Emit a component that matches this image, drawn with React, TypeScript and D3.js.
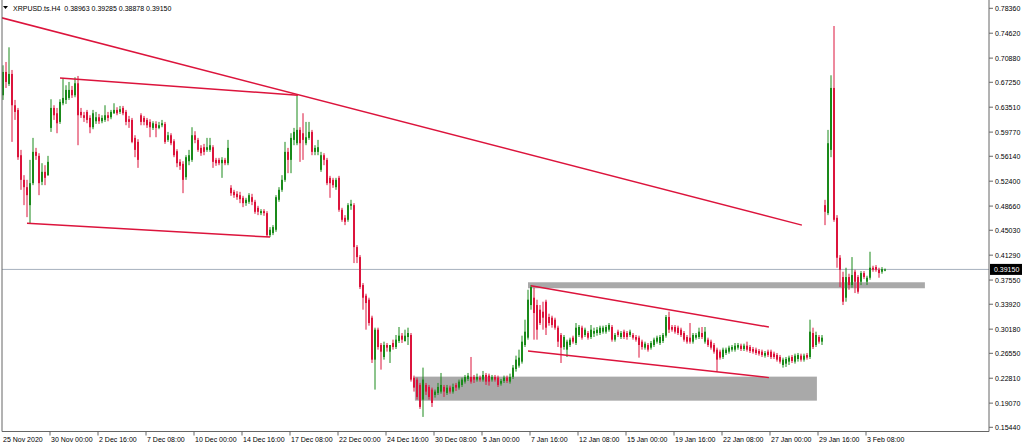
import React from "react";
import * as d3 from "d3";

// ---- H4 candles XRPUSD (index 0 = 25 Nov 2020 08:00) ----
const open = [
  0.653,0.688,0.670,0.685,0.638,0.631,0.563,0.526,0.515,0.488,0.521,0.568,0.562,0.523,0.538,0.533,
  0.604,0.634,0.626,0.613,0.641,0.646,0.649,0.661,0.653,0.671,0.628,0.623,0.628,0.619,0.605,0.614,0.620,0.614,0.616,0.623,0.620,0.626,0.631,0.628,0.634,0.628,0.617,0.616,0.589,0.583,
  0.623,0.619,0.616,0.613,0.604,0.610,0.604,0.608,0.610,0.586,0.593,0.584,0.569,0.553,0.550,0.530,0.554,0.556,0.593,0.586,0.574,0.575,0.571,0.571,0.575,0.556,0.556,0.551,0.556,0.551,
  0.514,0.508,0.505,0.503,0.499,0.491,0.493,0.500,0.493,0.484,0.476,0.479,0.476,0.443,0.446,0.451,0.496,0.511,0.526,0.568,0.556,0.586,0.581,0.601,0.596,0.581,0.589,0.598,0.568,0.568,
  0.541,0.563,0.556,0.529,0.526,0.515,0.529,0.481,0.469,0.466,0.487,0.488,0.425,0.410,0.368,0.352,0.346,0.319,0.256,0.301,0.278,0.260,0.278,0.268,
  0.281,0.275,0.284,0.292,0.284,0.290,0.293,0.229,0.226,0.218,0.196,0.218,0.215,0.211,0.203,0.206,0.208,0.215,0.206,0.214,0.208,0.218,0.214,0.218,
  0.223,0.227,0.230,0.230,0.226,0.229,0.226,0.233,0.232,0.226,0.230,0.229,0.220,0.224,0.229,0.223,0.230,0.242,0.247,0.253,0.278,0.289,0.338,0.349,0.338,0.331,0.328,0.343,0.320,0.319,
  0.316,0.304,0.293,0.275,0.271,0.278,0.289,0.281,0.293,0.304,0.293,0.296,0.290,0.295,0.296,0.296,0.298,0.298,0.301,0.305,0.286,0.298,0.290,0.298,0.296,0.293,0.293,0.290,0.289,0.283,
  0.274,0.278,0.274,0.278,0.283,0.281,0.284,0.292,0.320,0.305,0.305,0.304,0.301,0.296,0.290,0.289,0.283,0.289,0.290,0.296,0.283,0.286,0.283,0.278,0.271,0.268,0.260,0.266,0.268,0.271,
  0.271,0.274,0.277,0.272,0.277,0.275,0.272,0.271,0.269,0.268,0.262,0.268,0.268,0.265,0.263,0.260,0.248,0.250,0.253,0.260,0.253,0.257,0.262,0.256,0.263,0.260,0.296,0.278,0.290,0.283,
  0.488,0.476,0.571,0.664,0.469,0.409,0.380,0.349,0.380,0.368,0.388,0.380,0.373,0.386,0.373,0.379,0.394,0.395,0.391,0.388,0.38963,
];
const high = [
  0.698,0.703,0.725,0.691,0.646,0.634,0.571,0.533,0.526,0.556,0.589,0.574,0.566,0.551,0.548,0.562,
  0.647,0.638,0.634,0.647,0.679,0.668,0.673,0.667,0.680,0.682,0.634,0.628,0.631,0.623,0.631,0.628,0.625,0.623,0.638,0.628,0.631,0.641,0.635,0.637,0.637,0.631,0.622,0.619,0.593,0.587,
  0.626,0.622,0.619,0.617,0.614,0.614,0.613,0.616,0.613,0.598,0.596,0.587,0.572,0.557,0.554,0.563,0.571,0.605,0.599,0.589,0.578,0.580,0.589,0.589,0.578,0.559,0.559,0.560,0.559,0.586,
  0.518,0.511,0.509,0.508,0.502,0.499,0.506,0.505,0.496,0.487,0.482,0.482,0.479,0.455,0.458,0.503,0.515,0.533,0.583,0.574,0.596,0.604,0.653,0.605,0.626,0.613,0.613,0.601,0.578,0.586,
  0.568,0.566,0.559,0.532,0.529,0.529,0.532,0.484,0.473,0.491,0.496,0.491,0.428,0.413,0.371,0.355,0.349,0.322,0.304,0.304,0.281,0.283,0.281,0.278,
  0.286,0.293,0.305,0.296,0.301,0.304,0.296,0.232,0.229,0.221,0.244,0.221,0.218,0.214,0.211,0.221,0.236,0.218,0.218,0.217,0.220,0.221,0.226,0.229,
  0.233,0.236,0.260,0.233,0.235,0.232,0.239,0.236,0.235,0.233,0.233,0.232,0.227,0.232,0.232,0.235,0.248,0.262,0.271,0.292,0.316,0.361,0.368,0.364,0.346,0.338,0.343,0.346,0.325,0.322,
  0.319,0.307,0.296,0.293,0.286,0.289,0.292,0.311,0.308,0.307,0.304,0.299,0.308,0.304,0.305,0.307,0.307,0.308,0.311,0.308,0.296,0.301,0.299,0.301,0.299,0.301,0.296,0.293,0.292,0.286,
  0.283,0.281,0.284,0.289,0.292,0.293,0.296,0.323,0.328,0.308,0.308,0.307,0.304,0.299,0.293,0.311,0.296,0.296,0.304,0.305,0.305,0.289,0.286,0.281,0.274,0.271,0.274,0.274,0.277,0.278,
  0.281,0.281,0.280,0.280,0.283,0.278,0.275,0.274,0.272,0.271,0.269,0.271,0.271,0.268,0.266,0.263,0.259,0.260,0.262,0.263,0.265,0.266,0.265,0.265,0.266,0.316,0.304,0.298,0.293,0.293,
  0.496,0.601,0.683,0.757,0.473,0.413,0.388,0.394,0.385,0.410,0.391,0.383,0.389,0.389,0.382,0.418,0.397,0.398,0.394,0.395,0.39285,
];
const low = [
  0.646,0.664,0.667,0.583,0.616,0.556,0.511,0.488,0.470,0.461,0.518,0.556,0.503,0.518,0.518,0.532,
  0.598,0.616,0.596,0.610,0.638,0.640,0.646,0.649,0.650,0.578,0.619,0.613,0.611,0.596,0.602,0.610,0.610,0.611,0.613,0.614,0.617,0.625,0.623,0.625,0.623,0.608,0.604,0.581,0.560,0.544,
  0.608,0.608,0.604,0.590,0.601,0.590,0.602,0.605,0.580,0.583,0.578,0.560,0.545,0.541,0.506,0.526,0.548,0.553,0.581,0.568,0.562,0.563,0.568,0.568,0.544,0.547,0.548,0.529,0.548,0.548,
  0.502,0.499,0.496,0.491,0.485,0.487,0.490,0.488,0.475,0.473,0.473,0.472,0.440,0.440,0.443,0.448,0.493,0.508,0.523,0.536,0.536,0.578,0.578,0.553,0.556,0.578,0.586,0.563,0.563,0.563,
  0.538,0.548,0.518,0.499,0.514,0.511,0.478,0.463,0.458,0.463,0.481,0.401,0.401,0.362,0.331,0.301,0.307,0.251,0.211,0.271,0.241,0.256,0.268,0.251,
  0.271,0.272,0.281,0.281,0.283,0.278,0.223,0.208,0.196,0.182,0.170,0.203,0.196,0.185,0.199,0.203,0.205,0.200,0.203,0.205,0.205,0.209,0.211,0.215,
  0.220,0.224,0.220,0.221,0.223,0.223,0.223,0.218,0.217,0.223,0.223,0.215,0.217,0.221,0.221,0.220,0.227,0.238,0.244,0.250,0.275,0.286,0.331,0.286,0.286,0.308,0.301,0.293,0.307,0.304,
  0.301,0.275,0.251,0.271,0.260,0.275,0.280,0.278,0.290,0.286,0.290,0.286,0.287,0.290,0.292,0.293,0.295,0.295,0.298,0.283,0.283,0.290,0.287,0.287,0.286,0.290,0.286,0.283,0.259,0.271,
  0.271,0.268,0.271,0.275,0.280,0.278,0.281,0.289,0.296,0.298,0.295,0.293,0.290,0.283,0.280,0.280,0.280,0.286,0.287,0.287,0.280,0.275,0.271,0.265,0.238,0.256,0.257,0.263,0.265,0.268,
  0.268,0.271,0.269,0.269,0.268,0.266,0.265,0.263,0.262,0.260,0.259,0.260,0.257,0.257,0.253,0.250,0.244,0.245,0.248,0.251,0.250,0.253,0.253,0.253,0.256,0.257,0.272,0.275,0.280,0.278,
  0.458,0.473,0.560,0.463,0.394,0.365,0.338,0.343,0.361,0.364,0.356,0.355,0.368,0.377,0.368,0.376,0.388,0.388,0.379,0.385,0.38878,
];
const close = [
  0.688,0.673,0.685,0.638,0.628,0.560,0.526,0.515,0.503,0.521,0.568,0.562,0.521,0.538,0.529,0.553,
  0.634,0.623,0.611,0.643,0.649,0.661,0.661,0.653,0.671,0.623,0.623,0.619,0.616,0.605,0.626,0.620,0.614,0.619,0.623,0.619,0.628,0.631,0.626,0.632,0.626,0.613,0.613,0.583,0.571,0.556,
  0.613,0.613,0.608,0.605,0.611,0.604,0.608,0.611,0.583,0.593,0.581,0.563,0.551,0.547,0.526,0.560,0.563,0.593,0.586,0.571,0.566,0.568,0.575,0.578,0.553,0.551,0.551,0.556,0.551,0.574,
  0.506,0.503,0.500,0.497,0.491,0.496,0.503,0.493,0.478,0.478,0.479,0.476,0.443,0.451,0.455,0.500,0.511,0.526,0.568,0.556,0.589,0.598,0.601,0.581,0.586,0.590,0.598,0.568,0.574,0.575,
  0.563,0.556,0.521,0.521,0.518,0.526,0.481,0.466,0.463,0.488,0.490,0.425,0.410,0.365,0.349,0.341,0.311,0.256,0.301,0.275,0.268,0.278,0.274,0.278,
  0.275,0.286,0.292,0.286,0.292,0.296,0.226,0.214,0.200,0.185,0.226,0.208,0.200,0.191,0.208,0.215,0.218,0.208,0.214,0.208,0.215,0.214,0.223,0.226,
  0.230,0.232,0.223,0.226,0.230,0.226,0.233,0.223,0.223,0.230,0.226,0.218,0.224,0.229,0.224,0.230,0.244,0.256,0.259,0.283,0.298,0.346,0.365,0.326,0.301,0.311,0.319,0.304,0.311,0.308,
  0.304,0.283,0.274,0.290,0.283,0.286,0.283,0.304,0.305,0.289,0.301,0.289,0.301,0.299,0.301,0.304,0.304,0.305,0.308,0.286,0.293,0.293,0.296,0.290,0.290,0.298,0.289,0.286,0.278,0.275,
  0.280,0.271,0.281,0.286,0.289,0.290,0.293,0.320,0.301,0.301,0.298,0.296,0.293,0.286,0.283,0.283,0.293,0.293,0.298,0.290,0.298,0.278,0.274,0.268,0.256,0.259,0.271,0.271,0.274,0.275,
  0.277,0.278,0.272,0.277,0.271,0.269,0.268,0.266,0.265,0.263,0.266,0.263,0.260,0.260,0.256,0.253,0.256,0.257,0.259,0.254,0.262,0.263,0.256,0.262,0.259,0.298,0.275,0.293,0.283,0.289,
  0.478,0.581,0.664,0.466,0.409,0.391,0.343,0.380,0.368,0.383,0.373,0.358,0.386,0.380,0.379,0.394,0.391,0.391,0.386,0.392,0.39150,
];

// ---- drawn objects (bar index, price) ----
const mainTrend = [[-1, 0.770], [266.3, 0.458]];
const wedgeTop = [[19, 0.679], [98.3, 0.653]];
const wedgeBottom = [[8, 0.461], [89, 0.440]];
const channelTop = [[176, 0.367], [255.3, 0.305]];
const channelBottom = [[175, 0.269], [255.3, 0.229]];
const upperZone = [175, 307.3, 0.3722, 0.3632];
const lowerZone = [137.3, 271.3, 0.2305, 0.1944];
const lastPrice = 0.3915;

const priceTicks = [0.7836, 0.7462, 0.7088, 0.6725, 0.6351, 0.5977, 0.5614, 0.524, 0.4866, 0.4503, 0.4129, 0.3755, 0.3392, 0.3018, 0.2655, 0.2281, 0.1907, 0.1544];
const timeTickIdx = [0, 16, 32, 48, 64, 80, 96, 112, 128, 144, 160, 176, 192, 208, 224, 240, 256, 272, 288];
const timeTickLabels = ["25 Nov 2020", "30 Nov 00:00", "2 Dec 16:00", "7 Dec 08:00", "10 Dec 00:00", "14 Dec 16:00", "17 Dec 08:00", "22 Dec 00:00", "24 Dec 16:00", "30 Dec 08:00", "5 Jan 00:00", "7 Jan 16:00", "12 Jan 08:00", "15 Jan 00:00", "19 Jan 16:00", "22 Jan 08:00", "27 Jan 00:00", "29 Jan 16:00", "3 Feb 08:00"];
const title = "XRPUSD.ts.H4  0.38963 0.39285 0.38878 0.39150";

const BULL = "#1a8a1a";
const BEAR = "#dc143c";
const FONT = "'Liberation Sans', Arial, sans-serif";

export default function App() {
  const W = 1024, H = 447;
  const left = 2, right = 989, bottom = 431.5;
  const x = d3.scaleLinear().domain([0, 294]).range([3, 885]);
  const y = d3.scaleLinear().domain([0.1544, 0.7836]).range([427.3, 8.3]);
  const line = d3.line<number[]>().x((d) => x(d[0])).y((d) => y(d[1]));
  const trends = [mainTrend, wedgeTop, wedgeBottom, channelTop, channelBottom];
  const zones = [upperZone, lowerZone];
  const yLast = y(lastPrice);

  return (
    <svg width={W} height={H} style={{ position: "absolute", left: 0, top: 0, background: "#fff" }}>
      <defs>
        <clipPath id="plot">
          <rect x={left} y={0} width={right - left} height={bottom} />
        </clipPath>
      </defs>
      <rect x={0} y={0} width={W} height={H} fill="#fff" />
      <g clipPath="url(#plot)">
        {zones.map((z, k) => (
          <rect key={k} x={x(z[0])} y={y(z[2])} width={x(z[1]) - x(z[0])} height={y(z[3]) - y(z[2])} fill="#a9a9a9" />
        ))}
        <line x1={left} x2={right} y1={yLast} y2={yLast} stroke="#a7b0be" strokeWidth={1} />
        {open.map((o, i) => {
          const c = close[i];
          const cx = Math.round(x(i));
          const col = c >= o ? BULL : BEAR;
          const top = y(Math.max(o, c));
          const bot = y(Math.min(o, c));
          return (
            <g key={i}>
              <line x1={cx} x2={cx} y1={y(high[i])} y2={y(low[i])} stroke={col} strokeWidth={1} />
              <rect x={cx - 1} y={top} width={2} height={Math.max(1, bot - top)} fill={col} />
            </g>
          );
        })}
        {trends.map((t, k) => (
          <path key={k} d={line(t) || ""} fill="none" stroke={BEAR} strokeWidth={1.5} />
        ))}
      </g>
      {/* frame */}
      <line x1={left} x2={left} y1={0} y2={bottom} stroke="#666" strokeWidth={1} />
      <line x1={right} x2={right} y1={0} y2={bottom} stroke="#666" strokeWidth={1} />
      <line x1={left} x2={right} y1={bottom} y2={bottom} stroke="#666" strokeWidth={1} />
      {/* title */}
      <path d="M3,6 L8,6 L5.5,9 Z" fill="#000" />
      <text x={13} y={10.5} fontFamily={FONT} fontSize={7} fill="#000" style={{ whiteSpace: "pre" }}>{title}</text>
      {/* price axis */}
      {priceTicks.map((p, k) => (
        <g key={k}>
          <line x1={right} x2={right + 4} y1={y(p)} y2={y(p)} stroke="#666" />
          <text x={995} y={y(p)} dy="0.35em" fontFamily={FONT} fontSize={7} fill="#000">{p.toFixed(5)}</text>
        </g>
      ))}
      <rect x={990} y={yLast - 5.5} width={32} height={11} fill="#000" />
      <text x={994} y={yLast} dy="0.35em" fontFamily={FONT} fontSize={7} fill="#fff">{lastPrice.toFixed(5)}</text>
      {/* time axis */}
      {timeTickIdx.map((t, k) => {
        const tx = k === 0 ? 2 : Math.round(x(t)) - 1;
        return (
          <g key={k}>
            {k > 0 && <line x1={tx} x2={tx} y1={bottom} y2={bottom + 4} stroke="#666" />}
            <text x={tx + 1} y={442} fontFamily={FONT} fontSize={7} fill="#000">{timeTickLabels[k]}</text>
          </g>
        );
      })}
    </svg>
  );
}
